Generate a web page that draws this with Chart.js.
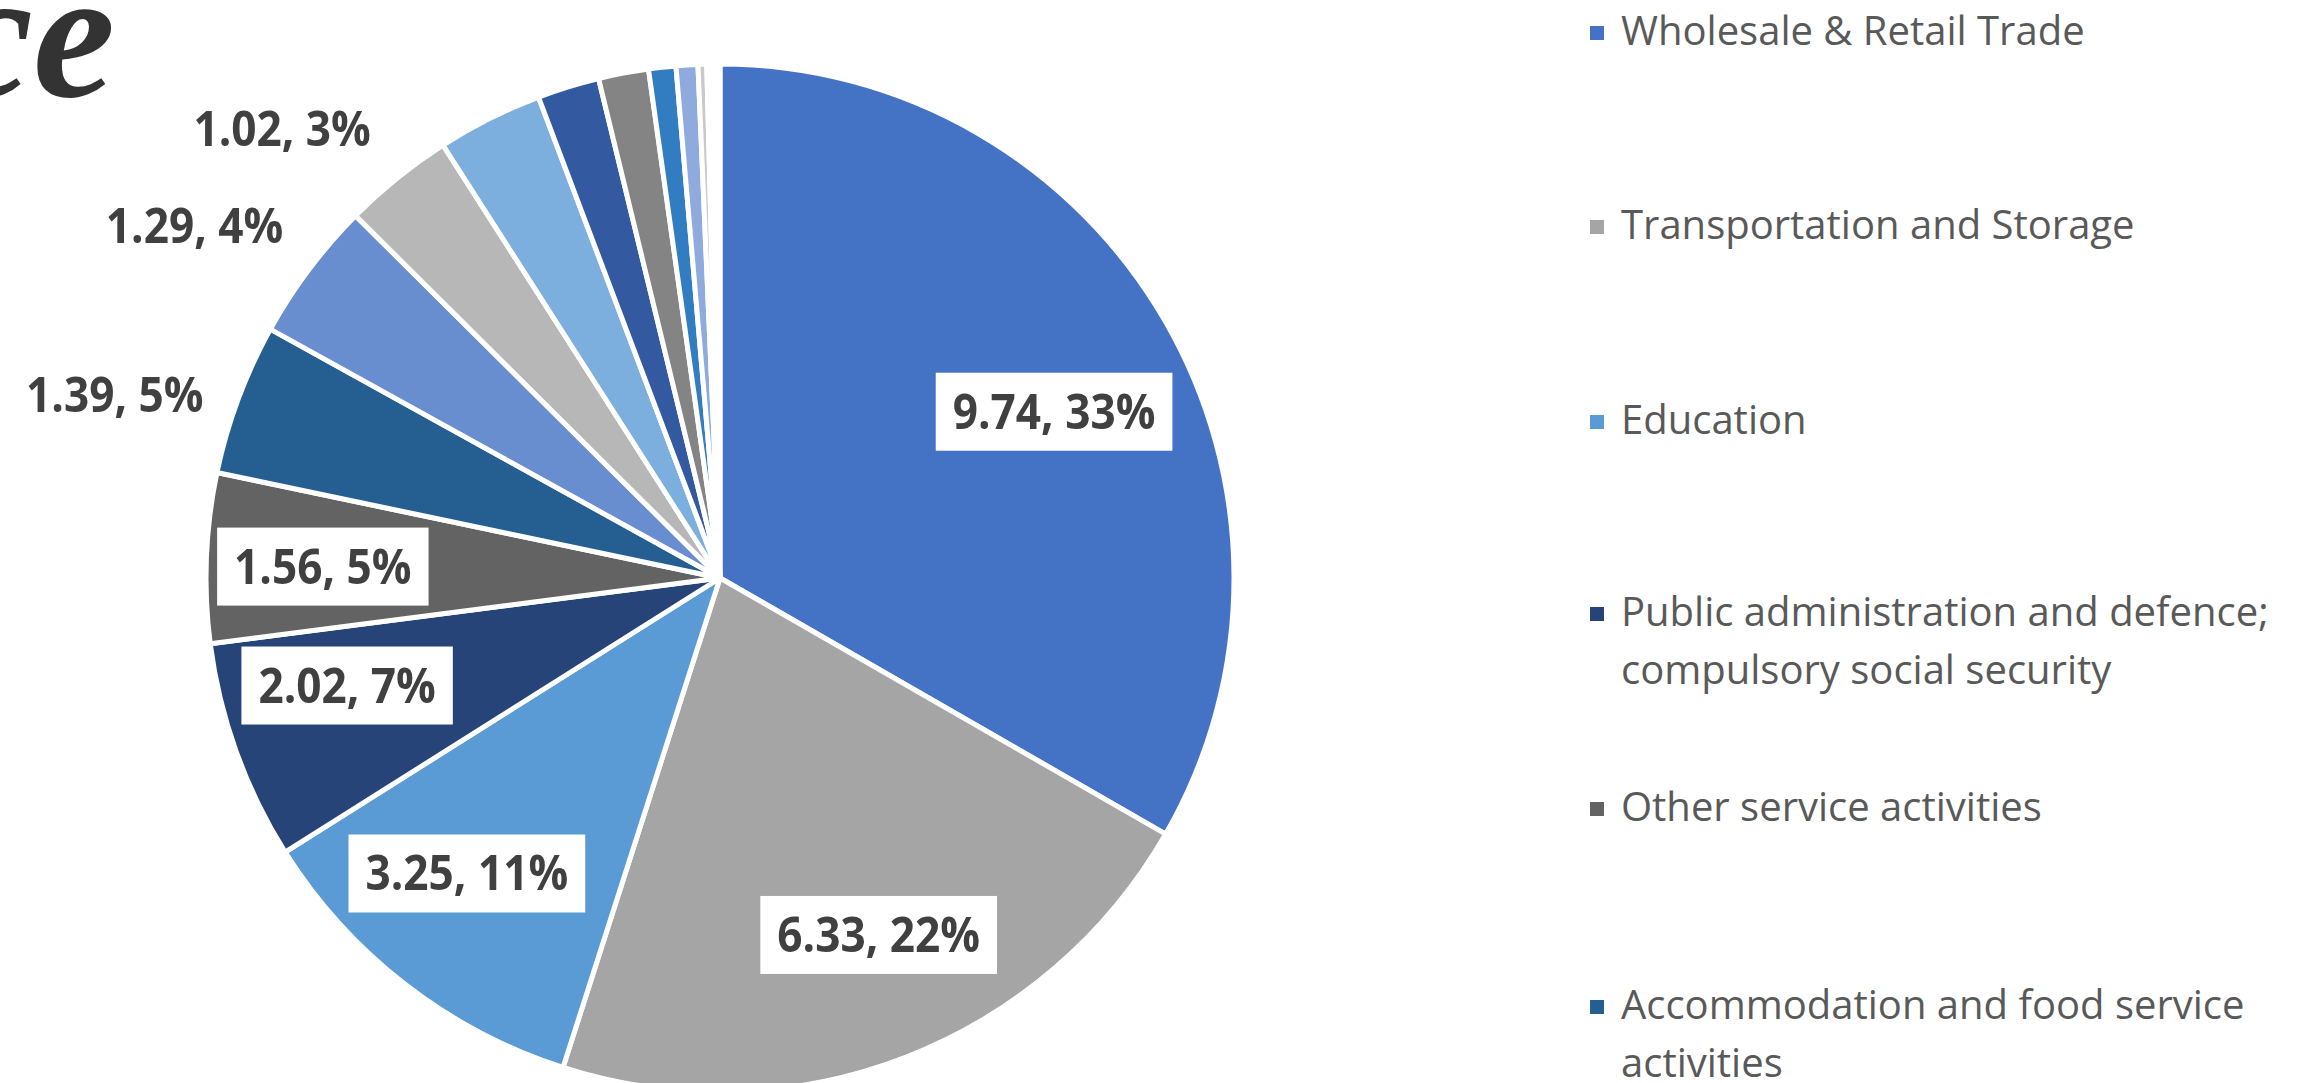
<!DOCTYPE html>
<html>
<head>
<meta charset="utf-8">
<script src="https://cdn.jsdelivr.net/npm/chart.js@4.4.1/dist/chart.umd.min.js"></script>
<style>
  html, body { margin: 0; padding: 0; background: #ffffff; width: 2305px; height: 1083px; overflow: hidden; position: relative; }
  #title { position: absolute; left: -49px; top: -59px; font-family: "Liberation Serif", serif; font-style: italic; font-weight: bold; font-size: 185px; line-height: 185px; color: #333333; white-space: nowrap; }
  #wrap { position: absolute; left: 0; top: 0; width: 1440px; height: 1156px; }
  #legend { position: absolute; left: 0; top: 0; }
  .lg-item { position: absolute; left: 1590px; }
  .lg-mark { position: absolute; left: 0; width: 14px; height: 14px; }
  .lg-text { position: absolute; left: 31px; top: 0; width: 690px; font-family: "Open Sans", sans-serif; font-size: 40px; line-height: 58px; color: #595959; }
</style>
</head>
<body>
<div id="title">ce</div>
<div id="wrap"><canvas id="chart"></canvas></div>
<div id="legend"></div>
<script>
// ---- data ----
const categories = [
  'Wholesale & Retail Trade',
  'Transportation and Storage',
  'Education',
  'Public administration and defence; compulsory social security',
  'Other service activities',
  'Accommodation and food service activities',
  'Category 7', 'Category 8', 'Category 9', 'Category 10', 'Category 11',
  'Category 12', 'Category 13', 'Category 14', 'Category 15'
];
const values = [9.74, 6.33, 3.25, 2.02, 1.56, 1.39, 1.29, 1.02, 0.97, 0.57, 0.46, 0.25, 0.20, 0.08, 0.12];
const labelledCount = 8;
const legendCount = 6;

// ---- styles / layout ----
const colors = ['#4472C4', '#A5A5A5', '#5B9BD5', '#264478', '#636363', '#255E91', '#698ED0', '#B7B7B7',
                '#7CAFDD', '#335AA1', '#848484', '#327DC2', '#8FAADC', '#C9C9C9', '#FFFFFF'];
// [angle shift in degrees from slice middle, radius factor, inside box?]
const labelPlacement = [[3.6, 0.726, true], [-2.8, 0.76, true], [2.8, 0.757, true], [3.7, 0.755, true],
                        [-0.6, 0.773, true], [-3.6, 1.23, false], [-3.1, 1.23, false], [-5.4, 1.22, false]];
const legendTops = [1, 195, 390, 582, 777, 975];
const LABEL_SX = 0.92;

const total = values.reduce((a, b) => a + b, 0);

const labelPlugin = {
  id: 'sliceLabels',
  afterDatasetsDraw(chart) {
    const ctx = chart.ctx;
    const meta = chart.getDatasetMeta(0);
    ctx.save();
    ctx.font = 'bold 48px "Open Sans", sans-serif';
    ctx.textAlign = 'center';
    ctx.textBaseline = 'alphabetic';
    meta.data.forEach((arc, i) => {
      if (i >= labelledCount) return;
      const p = arc.getProps(['startAngle', 'endAngle', 'x', 'y', 'outerRadius'], true);
      const [dDeg, rf, boxed] = labelPlacement[i];
      const a = (p.startAngle + p.endAngle) / 2 + dDeg * Math.PI / 180;
      const px = p.x + Math.cos(a) * p.outerRadius * rf;
      const py = p.y + Math.sin(a) * p.outerRadius * rf;
      const text = values[i].toFixed(2) + ', ' + Math.round(values[i] / total * 100) + '%';
      const w = ctx.measureText(text).width * LABEL_SX;
      if (boxed) {
        ctx.fillStyle = '#FFFFFF';
        ctx.fillRect(px - w / 2 - 17, py - 39, w + 34, 78);
      }
      ctx.fillStyle = '#404040';
      ctx.save();
      ctx.translate(px, py + 17);
      ctx.scale(LABEL_SX, 1);
      ctx.fillText(text, 0, 0);
      ctx.restore();
    });
    ctx.restore();
  }
};

new Chart(document.getElementById('chart'), {
  type: 'pie',
  data: {
    labels: categories,
    datasets: [{
      data: values,
      backgroundColor: colors,
      borderColor: '#FFFFFF',
      borderWidth: 5,
      radius: 514,
      hoverOffset: 0
    }]
  },
  options: {
    responsive: true,
    maintainAspectRatio: false,
    animation: false,
    layout: { padding: 0 },
    plugins: { legend: { display: false }, tooltip: { enabled: false } }
  },
  plugins: [labelPlugin]
});

// ---- legend (HTML) ----
const legend = document.getElementById('legend');
for (let i = 0; i < legendCount; i++) {
  const item = document.createElement('div');
  item.className = 'lg-item';
  item.style.top = legendTops[i] + 'px';
  const mark = document.createElement('div');
  mark.className = 'lg-mark';
  mark.style.background = colors[i];
  mark.style.top = '25px';
  const txt = document.createElement('div');
  txt.className = 'lg-text';
  txt.textContent = categories[i];
  item.appendChild(mark);
  item.appendChild(txt);
  legend.appendChild(item);
}
</script>
</body>
</html>
